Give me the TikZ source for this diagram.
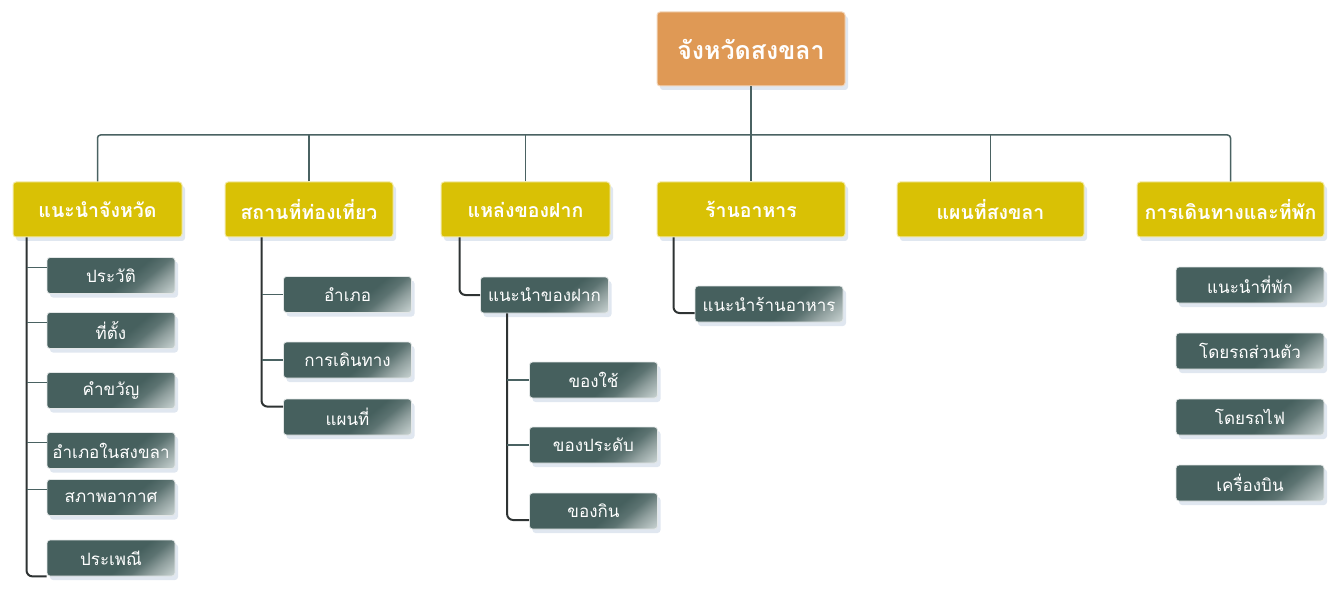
\documentclass[tikz,border=0pt]{standalone}
\usepackage{fontspec}
\newfontfamily\thaifont[Script=Thai]{Loma}
\usetikzlibrary{shadows}
\definecolor{rootorange}{HTML}{DF9955}
\definecolor{headyellow}{HTML}{D9C105}
\definecolor{slatedark}{HTML}{46605E}
\definecolor{slatelight}{HTML}{C4CFCE}
\definecolor{busline}{HTML}{4A6262}
\definecolor{trunkline}{HTML}{2E3333}
\definecolor{shadowblue}{HTML}{CBD7E6}
\pgfdeclarehorizontalshading{slategloss}{100bp}{color(0bp)=(slatedark); color(58bp)=(slatedark); color(66bp)=(slatedark!88!white); color(74bp)=(slatedark!60!white); color(84bp)=(slatelight); color(100bp)=(slatelight)}
\tikzset{
  softshadow/.style={drop shadow={shadow xshift=3pt, shadow yshift=-4pt, fill=shadowblue, opacity=0.6}},
  rootbox/.style={rounded corners=3pt, fill=rootorange, draw=rootorange!40!white, line width=1pt,
    minimum width=188pt, minimum height=74pt, text=white, softshadow,
    font=\thaifont\bfseries\fontsize{25}{28}\selectfont},
  headbox/.style={rounded corners=3pt, fill=headyellow, draw=headyellow!35!white, line width=1pt,
    minimum height=55pt, inner sep=1pt, text=white, softshadow,
    font=\thaifont\bfseries\fontsize{19.5}{22}\selectfont},
  itembox/.style={rounded corners=3pt, shading=slategloss, shading angle=-50, draw=white!85!slatedark,
    line width=0.8pt, minimum width=128pt, minimum height=36pt, inner sep=1pt, text=white, softshadow,
    font=\thaifont\fontsize{17}{20}\selectfont},
  busline/.style={draw=busline, line width=1.5pt, rounded corners=3pt},
  trunk/.style={draw=trunkline, line width=2pt, rounded corners=6pt},
  tick/.style={draw=busline, line width=1.2pt}
}
\begin{document}
\begin{tikzpicture}[x=1pt, y=-1pt]
  \useasboundingbox (0,0) rectangle (1344,596);
  % top level and the bus
  \node [rootbox] (root) at (751,49) {จังหวัดสงขลา};
  \coordinate (bus) at (751,135);
  \node [headbox, minimum width=169pt] (intro) at (97.5,209.5) {แนะนำจังหวัด};
  \node [headbox, minimum width=168pt] (tour) at (309,209.5) {สถานที่ท่องเที่ยว};
  \node [headbox, minimum width=169pt] (gift) at (525.5,209.5) {แหล่งของฝาก};
  \node [headbox, minimum width=188pt] (food) at (751,209.5) {ร้านอาหาร};
  \node [headbox, minimum width=187pt] (map) at (990.5,209.5) {แผนที่สงขลา};
  \node [headbox, minimum width=187pt] (trip) at (1230.5,209.5) {การเดินทางและที่พัก};
  \draw [busline] (root.south) -- (food.north);
  \draw [busline] (intro.north) -- (intro.north |- bus) -- (trip.north |- bus) -- (trip.north);
  \foreach \n in {tour,gift,map}
    \draw [busline] (\n.north) -- (\n.north |- bus);
  % first column
  \foreach \txt/\y [count=\i] in {ประวัติ/275.5, ที่ตั้ง/330.5, คำขวัญ/390.5, อำเภอในสงขลา/450.5, สภาพอากาศ/497.5, ประเพณี/558}
    \node [itembox] (intro\i) at (111,\y) {\txt};
  \coordinate (introtrunk) at ([xshift=14pt]intro.south west);
  \draw [trunk] (introtrunk) |- (intro6.south west);
  \foreach \i in {1,...,5} {
    \coordinate (tk) at ([yshift=8pt]intro\i.west);
    \draw [tick] (tk) -- (tk -| introtrunk);
  }
  % second column
  \foreach \txt/\y [count=\i] in {อำเภอ/294.5, การเดินทาง/360, แผนที่/417}
    \node [itembox] (tour\i) at (347.5,\y) {\txt};
  \coordinate (tourtrunk) at ([xshift=37pt]tour.south west);
  \draw [trunk] (tourtrunk) |- ([yshift=-8pt]tour3.north west);
  \foreach \i in {1,2}
    \draw [tick] (tour\i.west) -- (tour\i.west -| tourtrunk);
  % third column
  \node [itembox] (giftguide) at (544.5,295) {แนะนำของฝาก};
  \coordinate (gifttrunk) at ([xshift=19pt]gift.south west);
  \draw [trunk] (gifttrunk) |- (giftguide.west);
  \foreach \txt/\y [count=\i] in {ของใช้/380, ของประดับ/445, ของกิน/511}
    \node [itembox] (gift\i) at (593.5,\y) {\txt};
  \coordinate (guidetrunk) at ([xshift=27pt]giftguide.south west);
  \draw [trunk] (guidetrunk) |- ([yshift=-9pt]gift3.west);
  \foreach \i in {1,2}
    \draw [tick] (gift\i.west) -- (gift\i.west -| guidetrunk);
  % fourth column
  \node [itembox, minimum width=148pt] (foodguide) at (769,304) {แนะนำร้านอาหาร};
  \coordinate (foodtrunk) at ([xshift=17pt]food.south west);
  \draw [trunk] (foodtrunk) |- ([yshift=-9pt]foodguide.west);
  % last column
  \foreach \txt/\y [count=\i] in {แนะนำที่พัก/285, โดยรถส่วนตัว/351, โดยรถไฟ/417, เครื่องบิน/483}
    \node [itembox, minimum width=148pt] (trip\i) at (1250,\y) {\txt};
\end{tikzpicture}
\end{document}
